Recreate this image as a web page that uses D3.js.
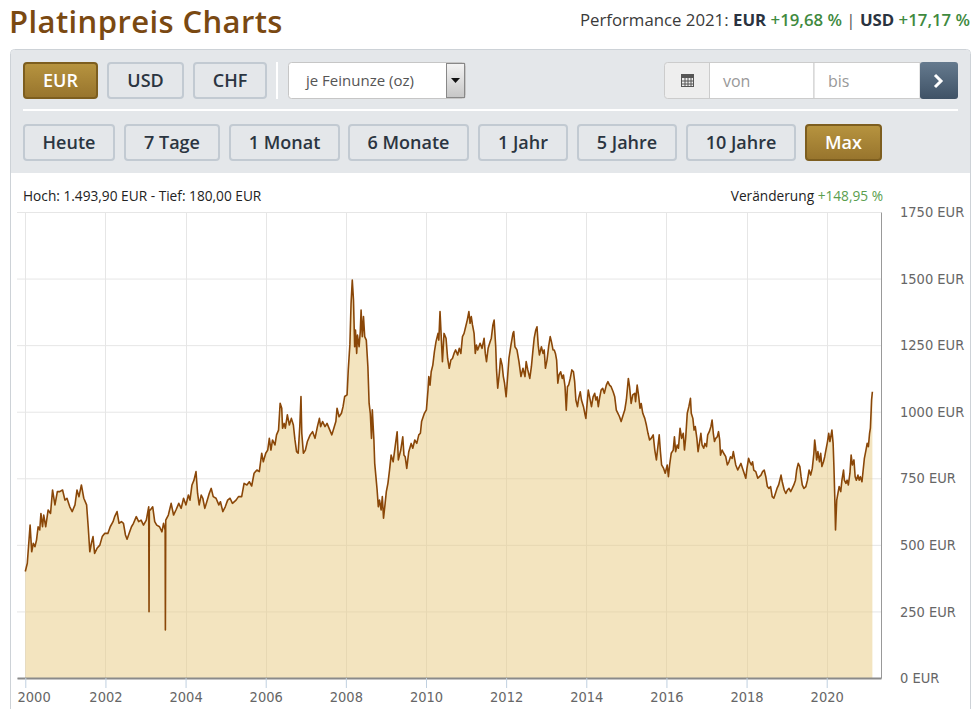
<!DOCTYPE html>
<html>
<head>
<meta charset="utf-8">
<style>
  body { margin:0; background:#fff; }
  svg text { font-family:"Open Sans", "DejaVu Sans", sans-serif; }
  .axis text { font-family:"DejaVu Sans Condensed", "DejaVu Sans", sans-serif; font-stretch:condensed; fill:#666; font-size:14.5px; }
</style>
<script src="https://cdn.jsdelivr.net/npm/d3@7/dist/d3.min.js"></script>
</head>
<body>
<div id="canvas"></div>
<script>
// price history, EUR per troy ounce
var years = [
  2000.00, 2000.05, 2000.12, 2000.16, 2000.20, 2000.24, 2000.28, 2000.32, 2000.36, 2000.39,
  2000.43, 2000.46, 2000.51, 2000.57, 2000.63, 2000.68, 2000.74, 2000.80, 2000.86, 2000.93,
  2000.99, 2001.04, 2001.11, 2001.17, 2001.24, 2001.29, 2001.34, 2001.40, 2001.46, 2001.53,
  2001.57, 2001.61, 2001.65, 2001.69, 2001.73, 2001.79, 2001.86, 2001.92, 2001.98, 2002.06,
  2002.12, 2002.19, 2002.23, 2002.29, 2002.34, 2002.40, 2002.45, 2002.50, 2002.54, 2002.59,
  2002.65, 2002.70, 2002.77, 2002.83, 2002.89, 2002.95, 2003.02, 2003.08, 2003.088, 2003.096,
  2003.12, 2003.18, 2003.23, 2003.28, 2003.35, 2003.41, 2003.45, 2003.49, 2003.496, 2003.505,
  2003.57, 2003.64, 2003.70, 2003.76, 2003.83, 2003.89, 2003.95, 2004.01, 2004.07, 2004.11,
  2004.16, 2004.21, 2004.26, 2004.30, 2004.34, 2004.39, 2004.43, 2004.48, 2004.53, 2004.59,
  2004.64, 2004.69, 2004.76, 2004.83, 2004.87, 2004.93, 2004.99, 2005.05, 2005.11, 2005.17,
  2005.26, 2005.32, 2005.40, 2005.46, 2005.53, 2005.59, 2005.65, 2005.71, 2005.78, 2005.84,
  2005.90, 2005.94, 2006.00, 2006.05, 2006.09, 2006.13, 2006.17, 2006.23, 2006.27, 2006.32,
  2006.36, 2006.40, 2006.42, 2006.46, 2006.49, 2006.54, 2006.59, 2006.64, 2006.69, 2006.73,
  2006.77, 2006.81, 2006.85, 2006.88, 2006.90, 2006.94, 2006.99, 2007.04, 2007.11, 2007.17,
  2007.23, 2007.29, 2007.34, 2007.37, 2007.42, 2007.48, 2007.53, 2007.60, 2007.65, 2007.70,
  2007.75, 2007.78, 2007.83, 2007.89, 2007.93, 2007.97, 2008.03, 2008.06, 2008.10, 2008.13,
  2008.16, 2008.19, 2008.22, 2008.24, 2008.27, 2008.29, 2008.33, 2008.36, 2008.38, 2008.41,
  2008.44, 2008.47, 2008.51, 2008.55, 2008.58, 2008.61, 2008.64, 2008.66, 2008.70, 2008.72,
  2008.75, 2008.78, 2008.81, 2008.84, 2008.88, 2008.91, 2008.94, 2008.98, 2009.01, 2009.05,
  2009.09, 2009.13, 2009.18, 2009.23, 2009.28, 2009.31, 2009.37, 2009.42, 2009.45, 2009.48,
  2009.52, 2009.57, 2009.63, 2009.67, 2009.72, 2009.77, 2009.82, 2009.86, 2009.89, 2009.96,
  2010.01, 2010.05, 2010.07, 2010.10, 2010.13, 2010.17, 2010.21, 2010.25, 2010.30, 2010.32,
  2010.35, 2010.41, 2010.45, 2010.50, 2010.54, 2010.58, 2010.62, 2010.66, 2010.70, 2010.74,
  2010.79, 2010.83, 2010.87, 2010.91, 2010.95, 2010.99, 2011.03, 2011.07, 2011.10, 2011.13,
  2011.16, 2011.20, 2011.23, 2011.26, 2011.29, 2011.35, 2011.40, 2011.45, 2011.48, 2011.51,
  2011.55, 2011.60, 2011.63, 2011.67, 2011.70, 2011.74, 2011.76, 2011.79, 2011.83, 2011.86,
  2011.90, 2011.93, 2011.96, 2012.00, 2012.04, 2012.07, 2012.12, 2012.17, 2012.19, 2012.22,
  2012.27, 2012.32, 2012.37, 2012.42, 2012.47, 2012.50, 2012.54, 2012.59, 2012.63, 2012.67,
  2012.70, 2012.74, 2012.77, 2012.80, 2012.83, 2012.88, 2012.92, 2012.95, 2012.98, 2013.02,
  2013.06, 2013.10, 2013.13, 2013.17, 2013.20, 2013.23, 2013.26, 2013.29, 2013.32, 2013.36,
  2013.40, 2013.43, 2013.47, 2013.50, 2013.53, 2013.56, 2013.60, 2013.64, 2013.68, 2013.71,
  2013.74, 2013.78, 2013.81, 2013.85, 2013.88, 2013.93, 2013.97, 2013.99, 2014.02, 2014.05,
  2014.09, 2014.13, 2014.17, 2014.21, 2014.24, 2014.27, 2014.30, 2014.33, 2014.37, 2014.41,
  2014.45, 2014.50, 2014.54, 2014.58, 2014.62, 2014.67, 2014.71, 2014.75, 2014.79, 2014.83,
  2014.87, 2014.92, 2014.96, 2015.00, 2015.05, 2015.08, 2015.12, 2015.16, 2015.21, 2015.23,
  2015.27, 2015.31, 2015.34, 2015.37, 2015.41, 2015.46, 2015.50, 2015.54, 2015.58, 2015.62,
  2015.67, 2015.71, 2015.75, 2015.82, 2015.85, 2015.88, 2015.93, 2015.97, 2016.02, 2016.05,
  2016.08, 2016.12, 2016.17, 2016.20, 2016.23, 2016.27, 2016.30, 2016.34, 2016.38, 2016.42,
  2016.45, 2016.48, 2016.52, 2016.56, 2016.60, 2016.62, 2016.66, 2016.69, 2016.72, 2016.76,
  2016.79, 2016.83, 2016.86, 2016.89, 2016.93, 2016.96, 2017.00, 2017.03, 2017.07, 2017.11,
  2017.14, 2017.17, 2017.20, 2017.23, 2017.27, 2017.30, 2017.33, 2017.35, 2017.39, 2017.43,
  2017.48, 2017.52, 2017.56, 2017.60, 2017.64, 2017.67, 2017.70, 2017.73, 2017.78, 2017.82,
  2017.86, 2017.90, 2017.94, 2017.98, 2018.01, 2018.05, 2018.08, 2018.12, 2018.15, 2018.18,
  2018.23, 2018.28, 2018.32, 2018.36, 2018.40, 2018.44, 2018.48, 2018.52, 2018.56, 2018.60,
  2018.64, 2018.68, 2018.72, 2018.76, 2018.80, 2018.83, 2018.86, 2018.89, 2018.94, 2018.98,
  2019.02, 2019.06, 2019.10, 2019.14, 2019.18, 2019.22, 2019.25, 2019.29, 2019.33, 2019.36,
  2019.39, 2019.43, 2019.48, 2019.52, 2019.56, 2019.60, 2019.64, 2019.68, 2019.70, 2019.72,
  2019.75, 2019.78, 2019.82, 2019.85, 2019.88, 2019.92, 2019.95, 2019.98, 2020.02, 2020.05,
  2020.08, 2020.11, 2020.13, 2020.16, 2020.18, 2020.20, 2020.22, 2020.25, 2020.28, 2020.31,
  2020.35, 2020.38, 2020.42, 2020.44, 2020.48, 2020.51, 2020.54, 2020.58, 2020.61, 2020.64,
  2020.68, 2020.71, 2020.74, 2020.78, 2020.81, 2020.84, 2020.88, 2020.91, 2020.94, 2020.98,
  2021.01, 2021.04, 2021.07, 2021.09, 2021.11, 2021.12, 2021.14
];
var prices = [
  400, 431, 574, 474, 506, 493, 518, 568, 556, 618,
  568, 612, 568, 631, 618, 706, 650, 700, 700, 706,
  668, 675, 643, 625, 650, 706, 681, 725, 675, 650,
  568, 474, 506, 531, 468, 487, 499, 531, 543, 543,
  568, 587, 606, 625, 581, 587, 581, 537, 521, 543,
  568, 581, 606, 587, 593, 574, 593, 643, 249, 631,
  631, 643, 587, 574, 568, 549, 581, 556, 180, 593,
  612, 656, 612, 631, 656, 637, 675, 650, 687, 668,
  725, 743, 775, 693, 650, 687, 675, 637, 662, 693,
  712, 681, 675, 650, 662, 625, 643, 668, 675, 656,
  668, 681, 681, 731, 725, 737, 721, 769, 781, 775,
  844, 812, 844, 856, 900, 856, 894, 875, 913, 931,
  1032, 1013, 938, 956, 938, 988, 950, 975, 950, 894,
  850, 844, 944, 1057, 919, 844, 856, 888, 913, 925,
  900, 944, 975, 944, 963, 944, 956, 931, 913, 938,
  963, 1013, 981, 994, 1019, 1057, 1063, 1157, 1251, 1407,
  1494, 1420, 1244, 1307, 1219, 1288, 1244, 1301, 1382, 1282,
  1357, 1282, 1269, 1169, 1032, 994, 900, 1007, 894, 806,
  756, 706, 643, 668, 631, 681, 600, 656, 700, 731,
  781, 837, 812, 869, 925, 819, 856, 906, 837, 831,
  787, 850, 881, 863, 894, 881, 913, 919, 963, 994,
  1007, 1082, 1132, 1100, 1150, 1175, 1226, 1263, 1294, 1269,
  1376, 1188, 1294, 1276, 1200, 1163, 1194, 1200, 1219, 1232,
  1213, 1238, 1219, 1282, 1294, 1319, 1344, 1376, 1332, 1357,
  1326, 1294, 1219, 1250, 1232, 1257, 1238, 1276, 1219, 1188,
  1238, 1263, 1276, 1326, 1344, 1244, 1157, 1088, 1144, 1200,
  1175, 1132, 1107, 1056, 1138, 1200, 1250, 1294, 1301, 1244,
  1232, 1188, 1132, 1163, 1132, 1188, 1157, 1125, 1169, 1232,
  1276, 1307, 1319, 1250, 1213, 1244, 1219, 1232, 1163, 1194,
  1244, 1282, 1263, 1232, 1232, 1219, 1194, 1107, 1138, 1150,
  1125, 1138, 1094, 1006, 1094, 1100, 1125, 1157, 1150, 1113,
  1044, 1019, 1050, 1075, 1044, 1019, 988, 975, 1031, 1081,
  1050, 1019, 1056, 1069, 1044, 1056, 1019, 1050, 1081, 1088,
  1069, 1100, 1113, 1100, 1094, 1075, 1056, 1006, 994, 981,
  963, 988, 1006, 1044, 1125, 1094, 1031, 1063, 1069, 1038,
  1100, 1056, 1013, 1031, 994, 975, 950, 919, 894, 900,
  913, 856, 819, 913, 850, 800, 787, 769, 800, 756,
  800, 844, 856, 906, 850, 875, 863, 938, 900, 919,
  856, 900, 994, 1019, 1050, 994, 975, 931, 944, 900,
  850, 888, 919, 875, 863, 881, 869, 913, 925, 944,
  969, 919, 888, 900, 906, 925, 894, 837, 856, 844,
  831, 800, 812, 831, 825, 850, 825, 800, 781, 794,
  806, 787, 769, 750, 787, 825, 812, 800, 812, 781,
  775, 750, 756, 762, 775, 781, 756, 719, 712, 719,
  681, 675, 693, 712, 725, 743, 762, 737, 706, 693,
  706, 712, 700, 712, 725, 743, 781, 806, 794, 756,
  725, 712, 719, 743, 781, 762, 787, 844, 894, 869,
  819, 850, 812, 844, 794, 812, 831, 856, 888, 919,
  888, 913, 931, 881, 794, 687, 556, 668, 693, 719,
  700, 743, 781, 743, 731, 743, 725, 769, 837, 800,
  819, 756, 743, 762, 743, 756, 737, 781, 825, 856,
  881, 869, 919, 938, 1007, 1044, 1075
];
var yTicks = [0, 250, 500, 750, 1000, 1250, 1500, 1750];
var xTicks = [2000, 2002, 2004, 2006, 2008, 2010, 2012, 2014, 2016, 2018, 2020];
var currencies = ["EUR", "USD", "CHF"];
var ranges = ["Heute", "7 Tage", "1 Monat", "6 Monate", "1 Jahr", "5 Jahre", "10 Jahre", "Max"];

(function () {
  var svg = d3.select("#canvas").append("svg")
      .attr("width", 977).attr("height", 709);

  var defs = svg.append("defs");
  var grad = function (id, c1, c2) {
    var g = defs.append("linearGradient").attr("id", id)
        .attr("x1", 0).attr("y1", 0).attr("x2", 0).attr("y2", 1);
    g.append("stop").attr("offset", "0%").attr("stop-color", c1);
    g.append("stop").attr("offset", "100%").attr("stop-color", c2);
  };
  grad("gold", "#b7943f", "#97742d");
  grad("selArrow", "#f4f4f4", "#c6c6c6");
  grad("goBtn", "#657a8e", "#3f5266");

  // title + performance
  svg.append("text").attr("x", 9).attr("y", 33)
     .attr("font-size", 31).attr("font-weight", 600).attr("letter-spacing", 0.4)
     .attr("fill", "#7a4912")
     .text("Platinpreis Charts");

  var perf = svg.append("text").attr("x", 970).attr("y", 26)
     .attr("text-anchor", "end").attr("font-size", 16.8).attr("fill", "#3a3a3a");
  perf.append("tspan").text("Performance 2021: ");
  perf.append("tspan").attr("font-weight", 700).attr("fill", "#2a3340").text("EUR ");
  perf.append("tspan").attr("font-weight", 600).attr("fill", "#3f8a3f").text("+19,68 %");
  perf.append("tspan").attr("fill", "#555").text(" | ");
  perf.append("tspan").attr("font-weight", 700).attr("fill", "#2a3340").text("USD ");
  perf.append("tspan").attr("font-weight", 600).attr("fill", "#3f8a3f").text("+17,17 %");

  // panel frame
  svg.append("rect").attr("x", 10.5).attr("y", 49.5).attr("width", 960).attr("height", 680)
     .attr("rx", 4).attr("fill", "#fff").attr("stroke", "#cdd2d7");
  svg.append("path").attr("d", "M11,173 V54 Q11,50 15,50 H966 Q970,50 970,54 V173 Z")
     .attr("fill", "#e4e7ea");
  svg.append("line").attr("x1", 23).attr("x2", 958).attr("y1", 110).attr("y2", 110)
     .attr("stroke", "#fff").attr("stroke-width", 2);
  svg.append("line").attr("x1", 277).attr("x2", 277).attr("y1", 62).attr("y2", 99)
     .attr("stroke", "#fff").attr("stroke-width", 2);

  var button = function (x, y, w, h, label, active) {
    svg.append("rect").attr("x", x + 1).attr("y", y + 1).attr("width", w - 2).attr("height", h - 2)
       .attr("rx", 3)
       .attr("fill", active ? "url(#gold)" : "#e4e7ea")
       .attr("stroke", active ? "#7d5e1f" : "#c2cad2").attr("stroke-width", 2);
    svg.append("text").attr("x", x + w / 2).attr("y", y + h / 2 + 6.5)
       .attr("text-anchor", "middle").attr("font-size", 18).attr("font-weight", 600)
       .attr("fill", active ? "#fff" : "#2b3541").text(label);
  };

  var curBox = [[23, 75], [107, 77], [193, 74]];
  currencies.forEach(function (c, i) {
    button(curBox[i][0], 62, curBox[i][1], 37, c, i === 0);
  });
  var rangeBox = [[23, 92], [124, 96], [229, 111], [348, 121], [478, 90], [577, 100], [686, 110], [805, 77]];
  ranges.forEach(function (r, i) {
    button(rangeBox[i][0], 124, rangeBox[i][1], 37, r, i === ranges.length - 1);
  });

  // unit select
  svg.append("rect").attr("x", 288.5).attr("y", 62.5).attr("width", 177).attr("height", 36)
     .attr("rx", 3).attr("fill", "#fff").attr("stroke", "#c6c6c6");
  svg.append("text").attr("x", 306).attr("y", 86).attr("font-size", 15).attr("fill", "#555")
     .text("je Feinunze (oz)");
  svg.append("rect").attr("x", 446.5).attr("y", 63.5).attr("width", 18).attr("height", 34)
     .attr("fill", "url(#selArrow)").attr("stroke", "#888");
  svg.append("path").attr("d", "M451,78 H460 L455.5,83 Z").attr("fill", "#111");

  // date range inputs
  svg.append("rect").attr("x", 664.5).attr("y", 62.5).attr("width", 48).attr("height", 36)
     .attr("rx", 3).attr("fill", "#eeeeee").attr("stroke", "#cccccc");
  svg.append("rect").attr("x", 709.5).attr("y", 62.5).attr("width", 104.5).attr("height", 36)
     .attr("fill", "#fff").attr("stroke", "#cccccc");
  svg.append("rect").attr("x", 814).attr("y", 62.5).attr("width", 106).attr("height", 36)
     .attr("fill", "#fff").attr("stroke", "#cccccc");
  svg.append("rect").attr("x", 920).attr("y", 62).attr("width", 38).attr("height", 37)
     .attr("rx", 3).attr("fill", "url(#goBtn)");
  svg.append("path").attr("d", "M935,75 L941,81 L935,87").attr("fill", "none")
     .attr("stroke", "#fff").attr("stroke-width", 3);
  // calendar icon
  var cal = svg.append("g").attr("transform", "translate(681,74)");
  cal.append("rect").attr("width", 13).attr("height", 13).attr("fill", "#555");
  cal.append("rect").attr("x", 1).attr("y", 4).attr("width", 11).attr("height", 8).attr("fill", "#eee");
  [4, 7, 10].forEach(function (gx) {
    cal.append("line").attr("x1", gx).attr("x2", gx).attr("y1", 4).attr("y2", 12).attr("stroke", "#555");
  });
  [7, 10].forEach(function (gy) {
    cal.append("line").attr("x1", 1).attr("x2", 12).attr("y1", gy).attr("y2", gy).attr("stroke", "#555");
  });
  svg.append("text").attr("x", 723).attr("y", 87).attr("font-size", 16).attr("fill", "#999").text("von");
  svg.append("text").attr("x", 828).attr("y", 87).attr("font-size", 16).attr("fill", "#999").text("bis");

  // chart header texts
  svg.append("text").attr("x", 23).attr("y", 201).attr("font-size", 13.7).attr("fill", "#222")
     .text("Hoch: 1.493,90 EUR - Tief: 180,00 EUR");
  var chg = svg.append("text").attr("x", 883).attr("y", 201).attr("text-anchor", "end")
     .attr("font-size", 13.7).attr("fill", "#222");
  chg.append("tspan").text("Veränderung ");
  chg.append("tspan").attr("fill", "#5a9e4e").text("+148,95 %");

  // scales
  var x = d3.scaleLinear().domain([1999.793, 2021.355]).range([17, 881]);
  var y = d3.scaleLinear().domain([0, 1750]).range([678, 212]);
  var data = years.map(function (yr, i) { return { t: yr, v: prices[i] }; });

  var grid = svg.append("g");
  grid.selectAll("line.h").data(yTicks).enter().append("line")
      .attr("x1", 17).attr("x2", 881)
      .attr("y1", function (d) { return y(d) + 0.5; }).attr("y2", function (d) { return y(d) + 0.5; })
      .attr("stroke", "#e6e6e6");
  grid.selectAll("line.v").data(xTicks).enter().append("line")
      .attr("y1", 212).attr("y2", 678)
      .attr("x1", function (d) { return Math.round(x(d)) + 0.5; })
      .attr("x2", function (d) { return Math.round(x(d)) + 0.5; })
      .attr("stroke", "#e6e6e6");

  var area = d3.area()
      .x(function (d) { return x(d.t); })
      .y0(y(0))
      .y1(function (d) { return y(d.v); });
  var line = d3.line()
      .x(function (d) { return x(d.t); })
      .y(function (d) { return y(d.v); });

  svg.append("path").datum(data).attr("d", area)
     .attr("fill", "rgb(231,201,127)").attr("fill-opacity", 0.5);
  svg.append("path").datum(data).attr("d", line)
     .attr("fill", "none").attr("stroke", "#8a4708").attr("stroke-width", 1.6)
     .attr("stroke-linejoin", "round");

  // right axis
  var ya = svg.append("g").attr("class", "axis").attr("transform", "translate(881,0)")
     .call(d3.axisRight(y).tickValues(yTicks).tickSize(0).tickPadding(19)
       .tickFormat(function (d) { return d + " EUR"; }));
  ya.select(".domain").attr("stroke", "#999");

  // bottom axis
  var xa = svg.append("g").attr("class", "axis").attr("transform", "translate(0,678)")
     .call(d3.axisBottom(x).tickValues(xTicks).tickSize(10).tickSizeOuter(0).tickPadding(4)
       .tickFormat(d3.format("d")));
  xa.select(".domain").attr("stroke", "#8a8a8a").attr("stroke-width", 2);
  xa.selectAll(".tick line").attr("stroke", "#c0d0e0");
  xa.selectAll(".tick text").filter(function (d) { return d === xTicks[0]; })
     .attr("text-anchor", "start").attr("x", 17 - x(xTicks[0]));
})();
</script>
</body>
</html>
